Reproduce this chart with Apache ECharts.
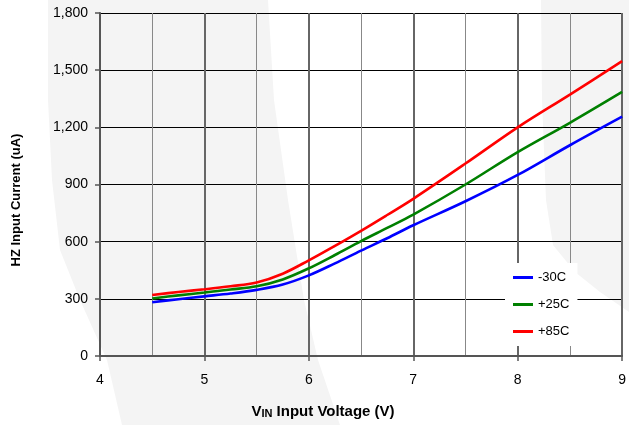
<!DOCTYPE html>
<html>
<head>
<meta charset="utf-8">
<script src="https://cdn.jsdelivr.net/npm/echarts@6/dist/echarts.min.js"></script>
<style>html,body{margin:0;padding:0;background:#fff}#c{width:629px;height:425px}</style>
</head>
<body>
<div id="c"></div>
<script>
var xVolts = [4.5, 4.75, 5, 5.25, 5.5, 5.75, 6, 6.25, 6.5, 6.75, 7, 7.5, 8, 8.5, 9];
var cold   = [282, 298, 313, 328, 347, 375, 423, 486, 553, 618, 686, 812, 950, 1106, 1256];
var room   = [302, 318, 333, 349, 366, 402, 460, 530, 603, 672, 742, 900, 1070, 1224, 1386];
var hot    = [320, 336, 350, 366, 386, 432, 502, 578, 657, 740, 825, 1010, 1200, 1372, 1547];
var seriesNames = ['-30C', '+25C', '+85C'];
var seriesColors = ['#0000ff', '#008000', '#ff0000'];
var xTitle = ['V', 'IN', ' Input Voltage (V)'];
var yTitle = 'HZ Input Current (uA)';

function pairs(ys){ return xVolts.map(function(x,i){ return [x, ys[i]]; }); }
var allData = [cold, room, hot];

var chart = echarts.init(document.getElementById('c'));
chart.setOption({
  animation: false,
  textStyle: { fontFamily: 'Liberation Sans, Arial, sans-serif' },
  graphic: [
    { type: 'polygon', z: -10, silent: true,
      shape: { points: [[48,0],[268,0],[274,100],[288,200],[304,300],[318,360],[340,425],[122,425],[107,360],[80,300],[60,250],[52,180],[48,100]] },
      style: { fill: '#f4f4f4' } },
    { type: 'polygon', z: -10, silent: true,
      shape: { points: [[541,0],[629,0],[629,312],[600,292],[575,272],[553,245],[546,200],[542,100]] },
      style: { fill: '#f4f4f4' } },
    { type: 'text', x: 16, y: 200, rotation: Math.PI / 2,
      style: { text: yTitle, font: 'bold 13px "Liberation Sans", Arial, sans-serif',
        fill: '#000', align: 'center', verticalAlign: 'middle' } },
    { type: 'text', x: 323, y: 411,
      style: { text: '{b|' + xTitle[0] + '}{s|' + xTitle[1] + '}{b|' + xTitle[2] + '}',
        align: 'center', verticalAlign: 'middle', fill: '#000',
        rich: {
          b: { fontSize: 15, fontWeight: 'bold', fontFamily: 'Liberation Sans', fill: '#000', verticalAlign: 'bottom', lineHeight: 16 },
          s: { fontSize: 11, fontWeight: 'bold', fontFamily: 'Liberation Sans', fill: '#000', verticalAlign: 'bottom', lineHeight: 14 }
        } } }
  ],
  grid: { left: 100, right: 5, top: 13, bottom: 69, containLabel: false },
  legend: {
    orient: 'vertical', left: 505, top: 263,
    backgroundColor: '#ffffff', padding: [8, 8, 8, 8],
    itemWidth: 20, itemHeight: 3, itemGap: 14,
    icon: 'rect',
    textStyle: { fontSize: 13, color: '#000', lineHeight: 12 },
    data: seriesNames
  },
  xAxis: {
    type: 'value', min: 4, max: 9, interval: 1,
    axisLine: { show: true, lineStyle: { color: '#555', width: 2 } },
    axisTick: { show: true, length: 5, lineStyle: { color: '#555', width: 1.5 } },
    axisLabel: { fontSize: 14, color: '#000', margin: 17 },
    splitLine: { show: true, lineStyle: { color: '#666', width: 2 } },
    minorTick: { show: false, splitNumber: 2 },
    minorSplitLine: { show: true, lineStyle: { color: '#888', width: 1 } }
  },
  yAxis: {
    type: 'value', min: 0, max: 1800, interval: 300,
    axisLine: { show: true, lineStyle: { color: '#555', width: 2 } },
    axisTick: { show: true, length: 5, lineStyle: { color: '#555', width: 1.5 } },
    axisLabel: { fontSize: 14, color: '#000', margin: 12,
      formatter: function(v){ return v.toLocaleString('en-US'); } },
    splitLine: { show: true, lineStyle: { color: '#000', width: 1 } }
  },
  series: seriesNames.map(function(n, i){
    return { name: n, type: 'line', smooth: 0.35, showSymbol: false,
      data: pairs(allData[i]), color: seriesColors[i],
      lineStyle: { width: 2.6, color: seriesColors[i] } };
  })
});
</script>
</body>
</html>
